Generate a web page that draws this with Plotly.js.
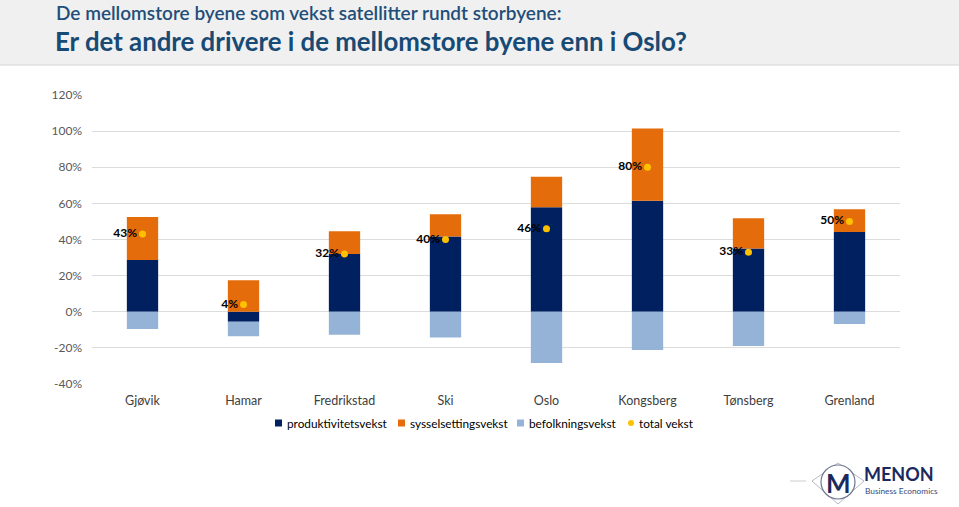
<!DOCTYPE html>
<html><head><meta charset="utf-8">
<script src="https://cdn.plot.ly/plotly-3.0.1.min.js"></script>
<style>html,body{margin:0;padding:0;background:#fff;}#chart{width:959px;height:507px;}</style>
</head><body><div id="chart"></div>
<script>
const categories = ["Gjøvik","Hamar","Fredrikstad","Ski","Oslo","Kongsberg","Tønsberg","Grenland"];
const produktivitetsvekst = [28.6, -5.5, 32.0, 41.7, 57.9, 61.4, 35.0, 44.2];
const sysselsettingsvekst = [23.9, 17.5, 12.5, 12.3, 16.8, 40.0, 16.8, 12.6];
const befolkningsvekst   = [-9.6, -8.0, -12.8, -14.2, -28.4, -21.2, -19.0, -6.8];
const totalVekst         = [43, 4, 32, 40, 46, 80, 33, 50];
const yTicks = [-40, -20, 0, 20, 40, 60, 80, 100, 120];
const seriesNames = ["produktivitetsvekst","sysselsettingsvekst","befolkningsvekst","total vekst"];
const seriesColors = ["#002060","#E46C0A","#95B3D7","#FFC000"];

const F = "Lato, 'Open Sans', sans-serif";
const W = 0.31;
const traces = [
  {type:'bar', name:seriesNames[0], x:categories, y:produktivitetsvekst, width:W, marker:{color:seriesColors[0]}, hoverinfo:'skip'},
  {type:'bar', name:seriesNames[1], x:categories, y:sysselsettingsvekst, width:W, marker:{color:seriesColors[1]}, hoverinfo:'skip'},
  {type:'bar', name:seriesNames[2], x:categories, y:befolkningsvekst, width:W, marker:{color:seriesColors[2]}, hoverinfo:'skip'},
  {type:'scatter', mode:'markers+text', name:seriesNames[3], x:categories, y:totalVekst,
   text: totalVekst.map(v => v + '%'), textposition:'middle left',
   textfont:{family:F, size:12, color:'#000', weight:'bold'},
   marker:{color:seriesColors[3], size:7}, hoverinfo:'skip'}
];

// paper coordinate helpers (plot area: 92..900 x, 95..384 y)
const H = 289;
const py = p => 1 + (95 - p) / H;
const px = p => (p - 92) / 808;

const shapes = [
  {type:'rect', xref:'paper', yref:'paper', x0:px(0), x1:px(959), y0:py(65), y1:py(0), fillcolor:'#f0f0f0', line:{width:0}, layer:'below'},
  {type:'line', xref:'paper', yref:'paper', x0:px(0), x1:px(959), y0:py(65), y1:py(65), line:{color:'#d6d6d6', width:1}},
  {type:'line', xref:'paper', yref:'paper', x0:px(790), x1:px(806), y0:py(481), y1:py(481), line:{color:'#cccccc', width:1}},
  {type:'path', xref:'paper', yref:'paper', path:`M ${px(812)} ${py(481)} L ${px(838)} ${py(463)} L ${px(864)} ${py(481)} L ${px(838)} ${py(504)} Z`, line:{color:'#a0a6b3', width:0.8}},
  {type:'circle', xref:'paper', yref:'paper', x0:px(821), x1:px(855), y0:py(499), y1:py(465), fillcolor:'#ffffff', line:{color:'#6f7890', width:1.2}}
];
const annotations = [
  {xref:'paper', yref:'paper', x:px(54), y:py(12), xanchor:'left', yanchor:'middle', showarrow:false,
   text:'De mellomstore byene som vekst satellitter rundt storbyene:', font:{family:F, size:19, color:'#1f4e79', weight:600}},
  {xref:'paper', yref:'paper', x:px(53), y:py(41), xanchor:'left', yanchor:'middle', showarrow:false,
   text:'<b>Er det andre drivere i de mellomstore byene enn i Oslo?</b>', font:{family:F, size:25.8, color:'#174a74'}},
  {xref:'paper', yref:'paper', x:px(838), y:py(483), xanchor:'center', yanchor:'middle', showarrow:false,
   text:'<b>M</b>', font:{family:F, size:26, color:'#1b2a5e'}},
  {xref:'paper', yref:'paper', x:px(862), y:py(474), xanchor:'left', yanchor:'middle', showarrow:false,
   text:'<b>MENON</b>', font:{family:F, size:18, color:'#1b2a5e'}},
  {xref:'paper', yref:'paper', x:px(863), y:py(491), xanchor:'left', yanchor:'middle', showarrow:false,
   text:'Business Economics', font:{family:F, size:8.3, color:'#3a4a7a'}}
];
// custom legend (positions in pixels)
const legX = [275, 398, 517, 631];
seriesNames.forEach((n, i) => {
  if (i < 3) {
    shapes.push({type:'rect', xref:'paper', yref:'paper', x0:px(legX[i]), x1:px(legX[i]+7), y0:py(426.5), y1:py(419.5),
                 fillcolor:seriesColors[i], line:{width:0}});
  } else {
    shapes.push({type:'circle', xref:'paper', yref:'paper', x0:px(legX[i]-3), x1:px(legX[i]+3), y0:py(426), y1:py(420),
                 fillcolor:seriesColors[i], line:{width:0}});
  }
  annotations.push({xref:'paper', yref:'paper', x:px(legX[i] + (i<3 ? 10 : 6)), y:py(423), xanchor:'left', yanchor:'middle',
                    showarrow:false, text:n, font:{family:F, size:11.8, color:'#000'}});
});

const layout = {
  width:959, height:507,
  margin:{l:92, r:59, t:95, b:123},
  paper_bgcolor:'#fff', plot_bgcolor:'#fff',
  barmode:'relative',
  font:{family:F, size:12, color:'#595959'},
  showlegend:false,
  xaxis:{type:'category', tickfont:{family:F, size:12.5, color:'#404040'}, showline:false, zeroline:false, ticks:'', showgrid:false, ticklabelstandoff:7},
  yaxis:{range:[-40,120], tickvals:yTicks, ticktext:yTicks.map(v=>v+'%'), showgrid:true, gridcolor:'#dcdcdc', gridwidth:1,
         zeroline:true, zerolinecolor:'#dcdcdc', zerolinewidth:1, tickfont:{family:F, size:12, color:'#595959'}, ticks:'', ticklen:0, ticklabelstandoff:9},
  shapes, annotations
};
Plotly.newPlot('chart', traces, layout, {displayModeBar:false, staticPlot:true});
</script></body></html>
